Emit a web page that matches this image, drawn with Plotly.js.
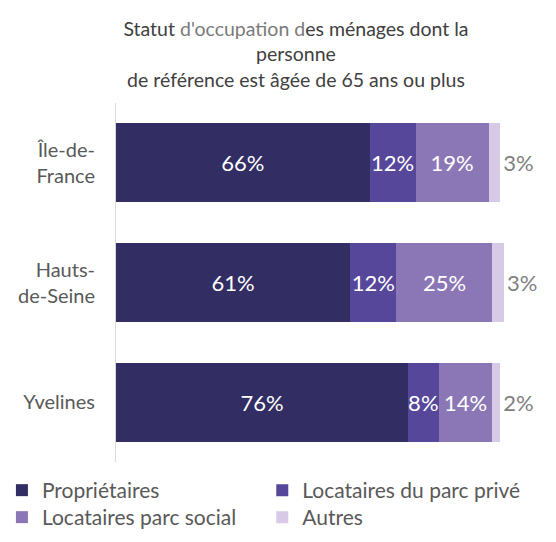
<!DOCTYPE html>
<html><head><meta charset="utf-8">
<script src="https://cdn.plot.ly/plotly-3.0.1.min.js"></script>
<style>body{margin:0;background:#fff}#chart{width:556px;height:542px;outline:1px solid #d9d9d9;outline-offset:-2px}</style>
</head><body><div id="chart"></div>
<script>
const categories = ["Île-de-<br>France", "Hauts-<br>de-Seine", "Yvelines"];
const seriesNames = ["Propriétaires", "Locataires du parc privé", "Locataires parc social", "Autres"];
const proprietaires = [66, 61, 76];
const locPrive = [12, 12, 8];
const locSocial = [19, 25, 14];
const autres = [3, 3, 2];
const colors = ["#322d63", "#56479b", "#8c77b6", "#d7cae6"];

const values = [proprietaires, locPrive, locSocial, autres];
const legendIds = ['legend', 'legend2', 'legend3', 'legend4'];
const traces = values.map((v, i) => ({
  type: 'bar', orientation: 'h', name: seriesNames[i],
  y: categories, x: v,
  text: v.map(d => d + '%'), texttemplate: '%{text}',
  textposition: i === 3 ? 'outside' : 'inside',
  insidetextanchor: 'middle', textangle: 0,
  constraintext: 'none', cliponaxis: false,
  textfont: {family: 'Lato, sans-serif', size: 22, color: i === 3 ? '#7f7f7f' : '#ffffff'},
  outsidetextfont: {family: 'Lato, sans-serif', size: 22, color: '#7f7f7f'},
  marker: {color: colors[i], line: {width: 0}},
  legend: legendIds[i],
  hoverinfo: 'skip'
}));

const legFont = {family: 'Lato, sans-serif', size: 21, color: '#595959'};
const colX = [-0.294, 0.377];
const rowY = [-0.0223, -0.0975];
function leg(col, row) {
  return {orientation: 'v', x: colX[col], xanchor: 'left', y: rowY[row], yanchor: 'top',
          font: legFont, bgcolor: 'rgba(0,0,0,0)'};
}

const layout = {
  width: 556, height: 542,
  margin: {l: 116, r: 52, t: 103, b: 80, autoexpand: false},
  barmode: 'stack', bargap: 0.34,
  paper_bgcolor: '#ffffff', plot_bgcolor: '#ffffff',
  font: {family: 'Lato, sans-serif', color: '#595959'},
  title: {
    text: "Statut <span style='color:#7a7a7a'>d'occupation d</span>es ménages dont la<br>personne<br>de référence est âgée de 65 ans ou plus",
    font: {family: 'Lato, sans-serif', size: 19.5, color: '#404040'},
    xref: 'container', x: 296/556, xanchor: 'center',
    yref: 'container', y: 1 - 36/542, yanchor: 'top'
  },
  xaxis: {range: [0, 101], showgrid: false, zeroline: false, showticklabels: false, showline: false, fixedrange: true},
  yaxis: {autorange: 'reversed', showline: true, linecolor: '#d9d9d9', linewidth: 1, ticks: '',
          ticklabelstandoff: 16, tickfont: {family: 'Lato, sans-serif', size: 20, color: '#595959'}, fixedrange: true},
  showlegend: true,
  legend: leg(0, 0),
  legend2: leg(1, 0),
  legend3: leg(0, 1),
  legend4: leg(1, 1)
};
Plotly.newPlot('chart', traces, layout, {displayModeBar: false, staticPlot: true});
</script></body></html>
